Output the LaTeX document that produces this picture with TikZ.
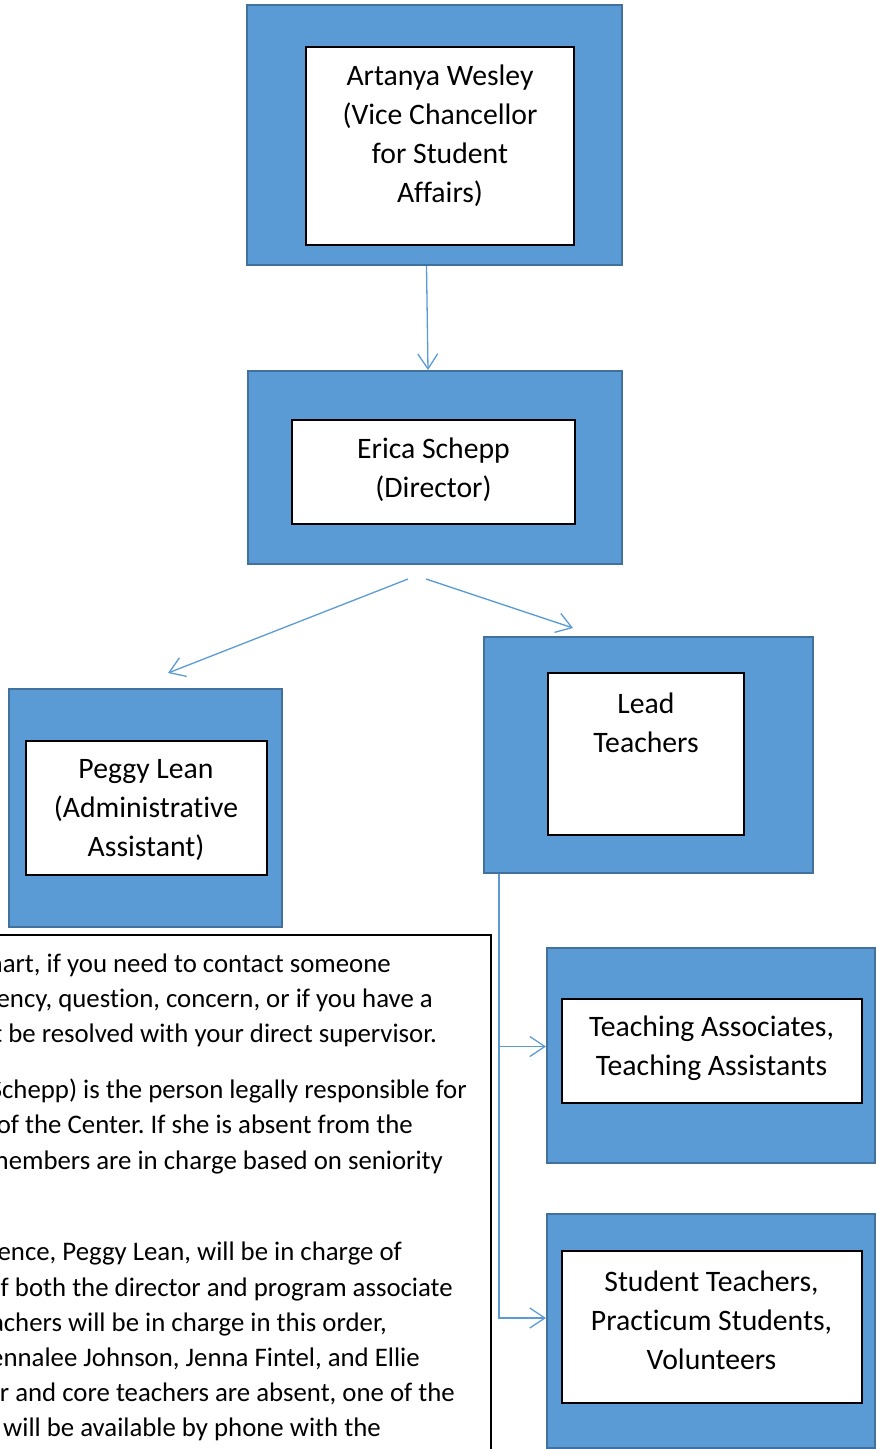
\documentclass[tikz,border=0pt]{standalone}
\usepackage{fontspec}
\setmainfont{Carlito}[Ligatures=NoCommon]
\usetikzlibrary{arrows.meta}
\definecolor{boxblue}{HTML}{5B9BD5}
\definecolor{boxedge}{HTML}{41719C}
\tikzset{
  outerbox/.style={draw=boxedge, fill=boxblue, line width=2pt, inner sep=0pt},
  innerbox/.style={draw=black, fill=white, line width=2.4pt, inner sep=0pt},
  lbl/.style={align=center, inner sep=0pt, font=\fontsize{29.7}{39}\selectfont},
  notebox/.style={draw=black, line width=2pt, inner sep=0pt},
  noteline/.style={anchor=base east, inner sep=0pt, font=\fontsize{26.8}{35}\selectfont\frenchspacing},
  conn/.style={draw=boxblue, line width=1.3pt, ->},
}

\begin{document}
\begin{tikzpicture}[x=1pt, y=-1pt, >={Straight Barb[length=15pt, width=20pt]}]
  \useasboundingbox (0,0) rectangle (877,1449);
  \clip (0,0) rectangle (877,1449);

  % outer blue boxes
  \node (vc)   at (434.5,135)  [outerbox, minimum width=375pt, minimum height=260pt] {};
  \node (dir)  at (435,467.5)  [outerbox, minimum width=374pt, minimum height=193pt] {};
  \node (adm)  at (145.5,808)  [outerbox, minimum width=273pt, minimum height=238pt] {};
  \node (lead) at (648.5,755)  [outerbox, minimum width=329pt, minimum height=236pt] {};
  \node (ta)   at (711,1055.5) [outerbox, minimum width=328pt, minimum height=215pt] {};
  \node (st)   at (711,1331)   [outerbox, minimum width=328pt, minimum height=234pt] {};

  % white inner boxes
  \node (vcIn)   at (440,146)    [innerbox, minimum width=268pt, minimum height=198pt] {};
  \node (dirIn)  at (433.5,472)  [innerbox, minimum width=283pt, minimum height=104pt] {};
  \node (admIn)  at (146.5,808)  [innerbox, minimum width=241pt, minimum height=134pt] {};
  \node (leadIn) at (646,754)    [innerbox, minimum width=196pt, minimum height=162pt] {};
  \node (taIn)   at (712,1051)   [innerbox, minimum width=300pt, minimum height=104pt] {};
  \node (stIn)   at (712,1327)   [innerbox, minimum width=300pt, minimum height=152pt] {};

  % names
  \node (vcTxt)   at (440,135.5)   [lbl] {Artanya Wesley\\(Vice Chancellor\\for Student\\Affairs)};
  \node (dirTxt)  at (433.5,469.5) [lbl] {Erica Schepp\\(Director)};
  \node (admTxt)  at (146,810)     [lbl] {Peggy Lean\\(Administrative\\Assistant)};
  \node (leadTxt) at (646,723)     [lbl] {Lead\\Teachers};
  \node (taTxt)   at (711.5,1048)  [lbl] {Teaching Associates,\\Teaching Assistants};
  \node (stTxt)   at (711.5,1320.5) [lbl] {Student Teachers,\\Practicum Students,\\Volunteers};

  % connectors
  \coordinate (splitL) at (408,579);
  \coordinate (splitR) at (426,579);
  \coordinate (admTip) at (168,673);
  \coordinate (leadTip) at (573,628);
  \draw [conn] ([xshift=-8pt]vc.south) -- ([xshift=-7pt]dir.north);
  \draw [conn] (splitL) -- (admTip);
  \draw [conn] (splitR) -- (leadTip);
  \draw [conn] ([xshift=16pt]lead.south west) |- ([yshift=9pt]ta.west);
  \draw [conn] ([xshift=16pt]lead.south west) |- ([yshift=13pt]st.west);

  % note box, cut by the page edge
  \node (note) at (243,1200) [notebox, minimum width=496pt, minimum height=530pt] {};
  \foreach \y/\x/\t [count=\i] in {
      972/391/{hart, if you need to contact someone},
      1007/433/{ency, question, concern, or if you have a},
      1042/437/{t be resolved with your direct supervisor.},
      1098/467/{Schepp) is the person legally responsible for},
      1133/413/{of the Center. If she is absent from the},
      1169/443/{members are in charge based on seniority},
      1260/402/{ence, Peggy Lean, will be in charge of},
      1296/453/{If both the director and program associate},
      1331/387/{achers will be in charge in this order,},
      1366/420/{ennalee Johnson, Jenna Fintel, and Ellie},
      1401/455/{r and core teachers are absent, one of the},
      1436/381/{will be available by phone with the}}
    \node (ln\i) at (\x,\y) [noteline] {\t};
\end{tikzpicture}
\end{document}
